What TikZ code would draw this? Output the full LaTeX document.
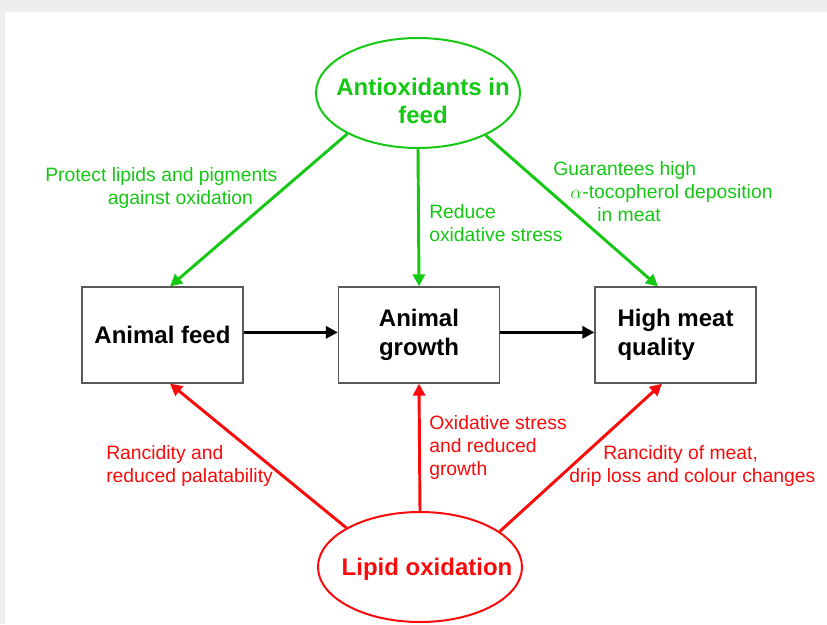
\documentclass[tikz,border=0pt]{standalone}
\usepackage{fontspec}
\setmainfont{Liberation Sans}
\usepackage{tikz}
\usetikzlibrary{calc,arrows.meta,shapes.geometric}
\definecolor{leafgreen}{RGB}{20,200,20}
\definecolor{rancidred}{RGB}{250,10,10}
\definecolor{framegray}{RGB}{238,238,238}

\begin{document}
\begin{tikzpicture}[x=0.75pt,y=-0.75pt,
  stagebox/.style={draw=black!65,line width=0.9pt,fill=white,minimum width=120.75pt,minimum height=72pt,inner sep=0pt,font=\bfseries\fontsize{18}{22}\selectfont},
  oval/.style={ellipse,line width=1.5pt,minimum width=153pt,minimum height=82.5pt,inner sep=0pt},
  ovaltext/.style={font=\bfseries\fontsize{18}{21}\selectfont,align=center,inner sep=0pt},
  effect/.style={font=\fontsize{14.5}{17.5}\selectfont,align=left,anchor=north west,inner sep=0pt},
  flow/.style={line width=2.2pt,-{Triangle[length=9pt,width=9pt]}}]
\useasboundingbox (0,0) rectangle (827,624);
\fill[framegray] (0,0) rectangle (827,624);
\fill[white] (5,12) rectangle (827,624);

\node[stagebox] (feed) at (162.5,335) {Animal feed};
\node[stagebox,align=center] (growth) at (419,335) {Animal\\growth};
\node[stagebox,align=left] (quality) at (675.5,335) {High meat\\quality};

\node[oval,draw=leafgreen] (antiox) at (418,93) {};
\node[ovaltext,text=leafgreen] (antioxtext) at (423,101) {Antioxidants in\\feed};
\node[oval,draw=rancidred] (lipid) at (420,567) {};
\node[ovaltext,text=rancidred] (lipidtext) at (427,569) {Lipid oxidation};

\draw[flow] ([yshift=2pt]feed.east) -- ([yshift=2pt]growth.west);
\draw[flow] ([yshift=2pt]growth.east) -- ([yshift=2pt]quality.west);

\draw[flow,leafgreen] (antiox.210) -- ($(feed.north)+(7.5,0)$);
\draw[flow,leafgreen] (antiox.south) -- (growth.north);
\draw[flow,leafgreen] (antiox.328) -- ($(quality.north)+(-17.5,0)$);
\draw[flow,rancidred] (lipid.152) -- ($(feed.south)+(7.5,0)$);
\draw[flow,rancidred] (lipid.north) -- (growth.south);
\draw[flow,rancidred] (lipid.24) -- ($(quality.south)+(-13.5,0)$);

\node[effect,text=leafgreen] (protect) at (45,167) {Protect lipids and pigments\\\hspace*{47pt}against oxidation};
\node[effect,text=leafgreen] (reduce) at (429,204) {Reduce\\oxidative stress};
\node[effect,text=leafgreen] (guarantee) at (553,161) {Guarantees high\\\hspace*{12.75pt}$\alpha$-tocopherol deposition\\\hspace*{33pt}in meat};
\node[effect,text=rancidred] (palatab) at (106,445) {Rancidity and\\reduced palatability};
\node[effect,text=rancidred] (stress) at (429,415) {Oxidative stress\\and reduced\\growth};
\node[effect,text=rancidred] (dripl) at (569,445) {\hspace*{25.5pt}Rancidity of meat,\\drip loss and colour changes};
\end{tikzpicture}
\end{document}
